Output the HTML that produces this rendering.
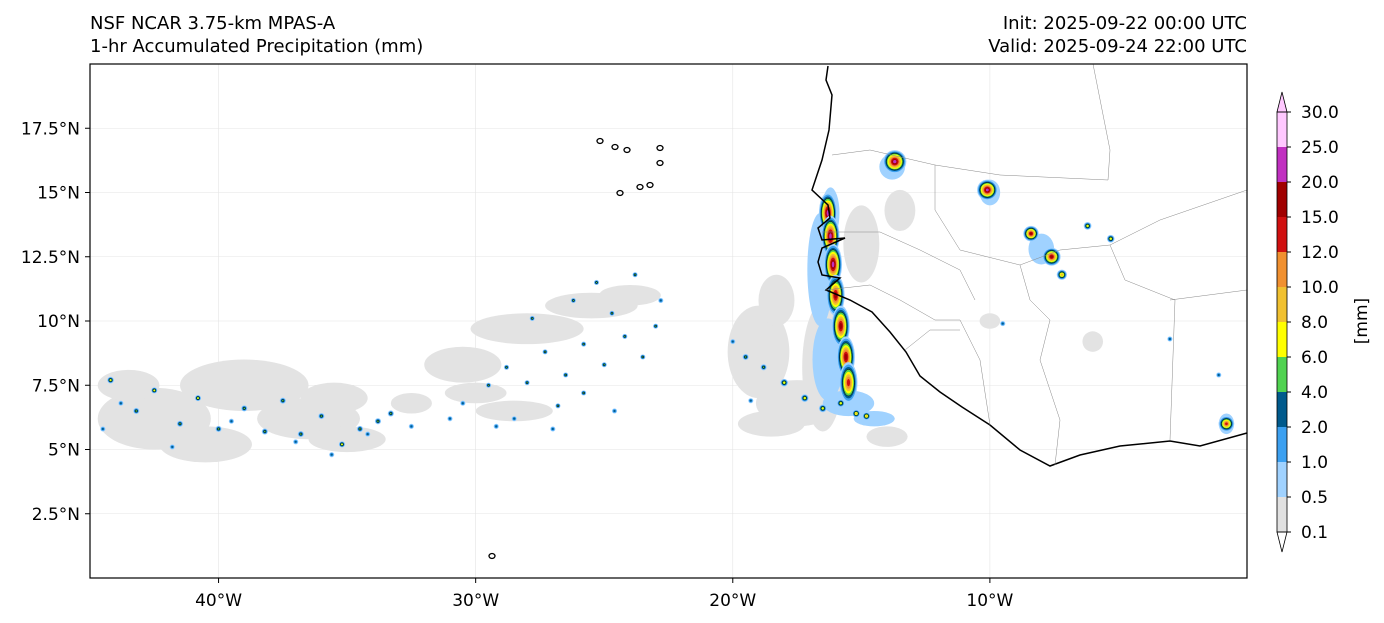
<!DOCTYPE html>
<html><head><meta charset="utf-8"><style>
body{margin:0;background:#fff;font-family:"Liberation Sans","DejaVu Sans",sans-serif;}
svg{display:block}
text{font-family:"DejaVu Sans","Liberation Sans",sans-serif;}
</style></head><body>
<svg id="chart" width="1384" height="623">
<text x="90" y="29" font-size="18">NSF NCAR 3.75-km MPAS-A</text>
<text x="90" y="52" font-size="18">1-hr Accumulated Precipitation (mm)</text>
<text x="1247" y="29" font-size="18" text-anchor="end">Init: 2025-09-22 00:00 UTC</text>
<text x="1247" y="52" font-size="18" text-anchor="end">Valid: 2025-09-24 22:00 UTC</text>
<g id="map"></g>
<g id="cbar"></g>
</svg>
<script>
const levels=[0.1,0.5,1.0,2.0,4.0,6.0,8.0,10.0,12.0,15.0,20.0,25.0,30.0];
const colors=["#e1e1e1","#a0d2ff","#3ca0f0","#005a8c","#50d250","#ffff00","#f0c030","#f09030","#d01010","#a00000","#c030c0"];
const lonTicks=[-40,-30,-20,-10];
const latTicks=[2.5,5,7.5,10,12.5,15,17.5];
// gray light-rain areas: lon, lat, rx(deg), ry(deg)
const grayLon=[-42.5,-39,-40.5,-36.5,-35,-43.5,-30.5,-28,-25.5,-24,-30,-28.5,-19,-18.3,-17.5,-18.5,-16.5,-15,-13.5,-14,-10,-6,-35.5,-32.5];
const grayLat=[6.2,7.5,5.2,6.2,5.4,7.5,8.3,9.7,10.6,11.0,7.2,6.5,8.8,10.8,6.8,6.0,8.2,13.0,14.3,5.5,10,9.2,7.0,6.8];
const grayRx=[2.2,2.5,1.8,2,1.5,1.2,1.5,2.2,1.8,1.2,1.2,1.5,1.2,0.7,1.6,1.3,0.8,0.7,0.6,0.8,0.4,0.4,1.3,0.8];
const grayRy=[1.2,1.0,0.7,0.8,0.5,0.6,0.7,0.6,0.5,0.4,0.4,0.4,1.8,1.0,0.9,0.5,2.5,1.5,0.8,0.4,0.3,0.4,0.6,0.4];
// convective cells: lon, lat, size(deg), max level index
const cellLon=[-44.2,-43.2,-42.5,-41.5,-40.8,-40,-39,-38.2,-37.5,-36.8,-36,-35.2,-34.5,-33.8,-33.3,-44.5,-43.8,-41.8,-39.5,-37,-35.6,-34.2,-32.5,-30.5,-29.5,-28.8,-28,-27.3,-26.5,-25.8,-25,-24.2,-23.5,-27.8,-26.2,-25.3,-24.7,-23.8,-23,-22.8,-26.8,-25.8,-28.5,-27,-24.6,-29.2,-31,-19.5,-18.8,-18,-17.2,-16.5,-15.8,-15.2,-14.8,-20,-19.3,-16.3,-16.2,-16.1,-16,-15.8,-15.6,-15.5,-13.7,-10.1,-8.4,-7.6,-7.2,-6.2,-5.3,-0.8,-9.5,-3,-1.1];
const cellLat=[7.7,6.5,7.3,6.0,7.0,5.8,6.6,5.7,6.9,5.6,6.3,5.2,5.8,6.1,6.4,5.8,6.8,5.1,6.1,5.3,4.8,5.6,5.9,6.8,7.5,8.2,7.6,8.8,7.9,9.1,8.3,9.4,8.6,10.1,10.8,11.5,10.3,11.8,9.8,10.8,6.7,7.2,6.2,5.8,6.5,5.9,6.2,8.6,8.2,7.6,7.0,6.6,6.8,6.4,6.3,9.2,6.9,14.2,13.3,12.2,11.0,9.8,8.6,7.6,16.2,15.1,13.4,12.5,11.8,13.7,13.2,6.0,9.9,9.3,7.9];
const cellSz=[0.13,0.12,0.12,0.12,0.12,0.12,0.12,0.12,0.12,0.12,0.12,0.12,0.12,0.12,0.12,0.1,0.1,0.1,0.1,0.1,0.1,0.1,0.1,0.1,0.1,0.1,0.1,0.1,0.1,0.1,0.1,0.1,0.1,0.1,0.1,0.1,0.1,0.1,0.1,0.1,0.1,0.1,0.1,0.1,0.1,0.1,0.1,0.12,0.12,0.15,0.15,0.15,0.15,0.15,0.15,0.1,0.1,0.5,0.5,0.5,0.5,0.5,0.5,0.5,0.45,0.4,0.3,0.35,0.2,0.15,0.15,0.3,0.1,0.1,0.1];
const cellLvl=[5,4,5,4,5,4,4,4,4,4,4,5,4,4,4,3,3,3,3,3,3,3,3,3,4,4,4,4,4,4,4,4,4,4,4,4,4,4,4,3,4,4,3,3,3,3,3,4,4,5,5,5,5,6,6,3,3,10,10,10,9,9,9,8,10,10,9,9,6,5,5,8,3,3,3];
const X0=90,X1=1247,Y0=64,Y1=578;
const x=lon=>X0+(lon+45)/45*(X1-X0);
const y=lat=>Y1-lat/20*(Y1-Y0);
const ns="http://www.w3.org/2000/svg";
function mk(p,t,a){const e=document.createElementNS(ns,t);for(const k in a)e.setAttribute(k,a[k]);p.appendChild(e);return e;}
const map=document.getElementById('map');
mk(map,'rect',{x:X0,y:Y0,width:X1-X0,height:Y1-Y0,fill:'#fff'});
lonTicks.forEach(v=>{const l=mk(map,'line',{x1:x(v),x2:x(v),y1:Y0,y2:Y1,stroke:'#e4e4e4','stroke-width':0.6});});
latTicks.forEach(v=>{const l=mk(map,'line',{x1:X0,x2:X1,y1:y(v),y2:y(v),stroke:'#e4e4e4','stroke-width':0.6});});
const kx=(X1-X0)/45, ky=(Y1-Y0)/20;
grayLon.forEach((v,i)=>{const e=mk(map,'ellipse',{cx:x(v),cy:y(grayLat[i]),rx:grayRx[i]*kx,ry:grayRy[i]*ky,fill:'#e3e3e3'});});
// coastal light-blue band
[[-16.6,12,0.5,2.2],[-16.3,8.5,0.6,1.6],[-15.5,6.8,1.0,0.5],[-16.2,14.2,0.35,1.0],[-13.8,16,0.5,0.5],[-10,15,0.4,0.5],[-8,12.8,0.5,0.6],[-0.8,6,0.3,0.4],[-14.5,6.2,0.8,0.3]].forEach(b=>{const e=mk(map,'ellipse',{cx:x(b[0]),cy:y(b[1]),rx:b[2]*kx,ry:b[3]*ky,fill:'#a0d2ff'});});
const elong=i=>(i>=57&&i<=63);
cellLon.forEach((v,i)=>{const g=mk(map,'g',{});
 const n=cellLvl[i];for(let k=1;k<=n;k++){const f=1-(k-1)/(n+0.5);const r=cellSz[i]*f;
 mk(g,'ellipse',{cx:x(v),cy:y(cellLat[i]),rx:r*kx*(elong(i)?0.7:1),ry:r*ky*(elong(i)?1.6:1),fill:colors[k],stroke:k==4?'#000':'none','stroke-width':0.5});}});
// coastline
const coast="M828,66 L826,80 L832,95 L829,130 L822,160 L812,190 L828,205 L830,218 L818,228 L822,240 L845,238 L822,248 L818,262 L822,275 L840,278 L826,290 L850,300 L872,312 L890,332 L906,352 L920,376 L940,392 L962,407 L990,425 L1020,450 L1050,466 L1080,455 L1120,446 L1170,441 L1200,446 L1247,433";
let c=mk(map,'path',{d:coast,fill:'none',stroke:'#000','stroke-width':1.5});
const borders=["M1093,64 L1110,150 L1108,180 L1000,175 L935,165 L870,150 L832,155","M935,165 L935,210 L960,250 L1020,265 L1060,250 L1110,245 L1160,220 L1247,190","M1020,265 L1030,300 L1050,320 L1040,360 L1060,420 L1055,465","M1170,300 L1247,290","M1175,300 L1170,440","M822,232 L880,232 L920,250 L960,270 L975,300","M826,290 L870,285 L900,300 L935,320 L960,320 L980,360 L990,425","M905,350 L930,330 L960,330","M1110,245 L1125,280 L1175,300"];
borders.forEach(d=>{const b=mk(map,'path',{d:d,fill:'none',stroke:'#888','stroke-width':0.5});});
[[600,141],[615,147],[627,150],[660,148],[660,163],[620,193],[640,187],[650,185],[492,556]].forEach(p=>{const e=mk(map,'ellipse',{cx:p[0],cy:p[1],rx:3,ry:2.5,fill:'none',stroke:'#000','stroke-width':1.3});});
mk(map,'rect',{x:X0,y:Y0,width:X1-X0,height:Y1-Y0,fill:'none',stroke:'#000','stroke-width':1.2});
lonTicks.forEach(v=>{mk(map,'line',{x1:x(v),x2:x(v),y1:Y1,y2:Y1+5,stroke:'#000'});const t=mk(map,'text',{x:x(v),y:Y1+28,'font-size':17,'text-anchor':'middle'});t.textContent=Math.abs(v)+'°W';});
latTicks.forEach(v=>{mk(map,'line',{x1:X0-5,x2:X0,y1:y(v),y2:y(v),stroke:'#000'});const t=mk(map,'text',{x:X0-10,y:y(v)+6,'font-size':17,'text-anchor':'end'});t.textContent=v+'°N';});
// colorbar
const cb=document.getElementById('cbar');const cx0=1277,cw=10,cyB=532,step=35;
const cyL=i=>cyB-i*step;
colors.forEach((col,i)=>{const r=mk(cb,'rect',{x:cx0,y:cyL(i+1),width:cw,height:step,fill:col});});
mk(cb,'polygon',{points:`${cx0},${cyL(12)} ${cx0+cw},${cyL(12)} ${cx0+cw},${cyL(11)} ${cx0},${cyL(11)}`,fill:'#ffc8ff'});
mk(cb,'polygon',{points:`${cx0},${cyL(12)} ${cx0+cw/2},${cyL(12)-20} ${cx0+cw},${cyL(12)}`,fill:'#ffc8ff',stroke:'#000','stroke-width':0.8});
mk(cb,'polygon',{points:`${cx0},${cyB} ${cx0+cw/2},${cyB+20} ${cx0+cw},${cyB}`,fill:'#fff',stroke:'#000','stroke-width':0.8});
mk(cb,'rect',{x:cx0,y:cyL(12),width:cw,height:12*step,fill:'none',stroke:'#000','stroke-width':0.8});
levels.forEach((v,i)=>{mk(cb,'line',{x1:cx0+cw,x2:cx0+cw+4,y1:cyL(i),y2:cyL(i),stroke:'#000'});const t=mk(cb,'text',{x:cx0+cw+14,y:cyL(i)+6,'font-size':17});t.textContent=v.toFixed(1);});
const u=mk(cb,'text',{x:1367,y:321,'font-size':17,'text-anchor':'middle',transform:'rotate(-90 1367 321)'});u.textContent='[mm]';
</script>
</body></html>
